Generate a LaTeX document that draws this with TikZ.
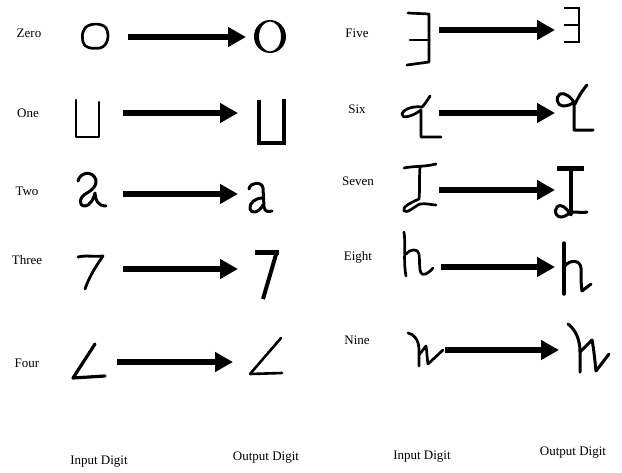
\documentclass[tikz,border=0pt]{standalone}
\usepackage{fontspec}
\setmainfont{Liberation Serif}
\usetikzlibrary{arrows.meta}
\begin{document}
\begin{tikzpicture}[x=1pt,y=-1pt,
  lbl/.style={font=\fontsize{13}{15}\selectfont, inner sep=0pt},
  pen/.style={line width=2.7pt, line cap=round, line join=round},
  bold pen/.style={line width=3.5pt, line cap=butt, line join=miter},
  maps/.style={line width=6pt, -{Triangle[length=18pt,width=19pt]}, shorten >=-1pt}]
\useasboundingbox (0,0) rectangle (622,472);

% row labels, left column
\node[lbl] (lzero)  at (29,33)  {Zero};
\node[lbl] (lone)   at (28,113) {One};
\node[lbl] (ltwo)   at (27,191) {Two};
\node[lbl] (lthree) at (27,260) {Three};
\node[lbl] (lfour)  at (27,363) {Four};
% row labels, right column
\node[lbl] (lfive)  at (357,33)  {Five};
\node[lbl] (lsix)   at (357,109) {Six};
\node[lbl] (lseven) at (358,181) {Seven};
\node[lbl] (leight) at (358,257) {Eight};
\node[lbl] (lnine)  at (357,340) {Nine};
% column captions
\node[lbl] (inL)  at (99,462)  {Input Digit};
\node[lbl] (outL) at (266,458) {Output Digit};
\node[lbl] (inR)  at (422,457) {Input Digit};
\node[lbl] (outR) at (573,453) {Output Digit};

% arrow end points
\coordinate (s0) at (128,37);  \coordinate (e0) at (245,37);
\coordinate (s1) at (123,113); \coordinate (e1) at (237,113);
\coordinate (s2) at (123,194); \coordinate (e2) at (237,194);
\coordinate (s3) at (123,269); \coordinate (e3) at (237,269);
\coordinate (s4) at (117,362); \coordinate (e4) at (232,362);
\coordinate (s5) at (439,30);  \coordinate (e5) at (554,30);
\coordinate (s6) at (439,113); \coordinate (e6) at (554,113);
\coordinate (s7) at (439,190); \coordinate (e7) at (554,190);
\coordinate (s8) at (441,267); \coordinate (e8) at (554,267);
\coordinate (s9) at (445,350); \coordinate (e9) at (558,350);
\foreach \i in {0,...,9} \draw[maps] (s\i) -- (e\i);

% ---- zero
\draw[pen] (84,30) .. controls (86,23) and (102,22) .. (106,28)
  .. controls (110,35) and (108,46) .. (100,48)
  .. controls (92,49) and (84,48) .. (83,42)
  .. controls (82,37) and (82,33) .. (84,30) -- cycle;
\fill[even odd rule] (270,36.5) ellipse [x radius=16, y radius=16.5]
                     (270,36.5) ellipse [x radius=11, y radius=15];

% ---- one
\draw[pen, line width=2.3pt] (76,100) -- (76,137) -- (99,137) -- (99,102);
\draw[bold pen] (259,100) -- (259,143) -- (284,143) -- (284,99);

% ---- two
\draw[pen, line width=3pt] (78,181) .. controls (80,172) and (93,170) .. (96,180)
  .. controls (97,186) and (92,190) .. (87,193)
  .. controls (79,197) and (78,206) .. (85,206)
  .. controls (90,206) and (94,198) .. (95,193)
  .. controls (95,200) and (98,206) .. (106,206);
\draw[pen, line width=3pt] (249,189) .. controls (250,182) and (262,181) .. (263,188)
  -- (264,207) .. controls (265,212) and (268,212) .. (272,211);
\draw[pen, line width=3pt] (263,198) .. controls (255,198) and (249,203) .. (250,209)
  .. controls (251,214) and (259,213) .. (263,205);

% ---- three
\draw[pen, line width=2.8pt] (78,257) .. controls (85,255) and (95,257) .. (103,256)
  .. controls (96,266) and (89,277) .. (85,289);
\draw[line width=5pt] (255,252) -- (279,252);
\draw[line width=4pt] (277,251) -- (263,299);

% ---- four
\draw[pen, line width=3.2pt] (95,344) -- (73,378) -- (105,376);
\draw[pen, line width=2.6pt] (281,338) -- (250,374) -- (282,373);

% ---- five
\draw[pen] (408,13) -- (429,14) -- (429,62) -- (407,65);
\draw[pen] (410,40) -- (429,40);
\draw[line width=2pt] (564,8) -- (579,8) -- (579,42) -- (564,42);
\draw[line width=2pt] (564,25) -- (579,25);

% ---- six
\draw[pen] (430,96) .. controls (427,101) and (425,104) .. (422,107)
  .. controls (415,106) and (404,108) .. (402,114)
  .. controls (401,119) and (412,117) .. (421,110) -- (421,137) -- (441,137);
\draw[pen, line width=3pt] (587,85) .. controls (581,92) and (578,98) .. (575,104)
  .. controls (571,97) and (565,92) .. (560,94)
  .. controls (555,97) and (557,106) .. (563,106)
  .. controls (568,106) and (572,104) .. (574,102) -- (574,130) -- (593,130);

% ---- seven
\draw[pen] (404,168) .. controls (412,166) and (425,167) .. (436,164);
\draw[pen] (420,167) .. controls (419,180) and (420,190) .. (419,199)
  .. controls (410,203) and (402,207) .. (404,211)
  .. controls (407,214) and (415,206) .. (420,204)
  .. controls (426,203) and (432,205) .. (436,205);
\draw[line width=5pt] (557,168) -- (584,168);
\draw[pen, line width=3.5pt] (571,168) -- (571,214);
\draw[pen, line width=3pt] (571,215) .. controls (566,207) and (560,203) .. (557,207)
  .. controls (553,212) and (557,218) .. (562,217)
  .. controls (567,216) and (570,212) .. (573,212)
  .. controls (578,212) and (583,213) .. (587,212);

% ---- eight
\draw[pen] (404,232) .. controls (406,245) and (403,260) .. (406,276);
\draw[pen] (406,254) .. controls (410,249) and (418,248) .. (419,254)
  .. controls (420,262) and (419,270) .. (421,273)
  .. controls (423,276) and (428,274) .. (433,268);
\draw[pen, line width=3.5pt] (564,243) -- (564,294);
\draw[pen, line width=3pt] (565,266) .. controls (569,260) and (580,259) .. (581,268)
  .. controls (581,278) and (581,285) .. (582,291) -- (591,284);

% ---- nine
\draw[pen] (408,333) .. controls (414,334) and (419,340) .. (419,350) -- (419,366);
\draw[pen] (419,355) -- (426,346) .. controls (427,352) and (427,358) .. (428,364) -- (443,350);
\draw[pen, line width=3pt] (568,324) .. controls (576,330) and (580,340) .. (580,352) -- (580,372);
\draw[pen, line width=3pt] (580,352) -- (592,340) .. controls (594,350) and (595,362) .. (596,371) -- (609,354);
\end{tikzpicture}
\end{document}
